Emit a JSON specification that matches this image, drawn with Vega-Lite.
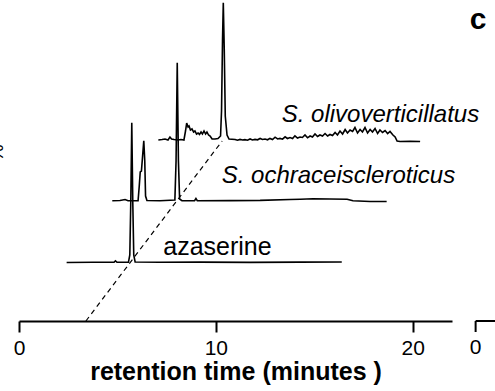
{
  "$schema": "https://vega.github.io/schema/vega-lite/v6.json",
  "autosize": {"type": "none"},
  "padding": {"left": 19, "top": 0, "right": 43, "bottom": 70},
  "width": 433,
  "height": 321,
  "background": "white",
  "config": {"view": {"stroke": null}, "font": "Liberation Sans"},
  "datasets": {
    "traces": [
      {"series": "azaserine", "t": 2.42, "s": 58.5},
      {"series": "azaserine", "t": 3.76, "s": 58.8},
      {"series": "azaserine", "t": 4.83, "s": 58.7},
      {"series": "azaserine", "t": 4.90, "s": 60.2},
      {"series": "azaserine", "t": 4.98, "s": 58.7},
      {"series": "azaserine", "t": 5.56, "s": 58.7},
      {"series": "azaserine", "t": 5.63, "s": 66},
      {"series": "azaserine", "t": 5.68, "s": 120},
      {"series": "azaserine", "t": 5.73, "s": 198.3},
      {"series": "azaserine", "t": 5.78, "s": 120},
      {"series": "azaserine", "t": 5.83, "s": 66},
      {"series": "azaserine", "t": 5.90, "s": 59},
      {"series": "azaserine", "t": 7.16, "s": 58.7},
      {"series": "azaserine", "t": 9.20, "s": 58.9},
      {"series": "azaserine", "t": 11.74, "s": 58.6},
      {"series": "azaserine", "t": 14.28, "s": 58.9},
      {"series": "azaserine", "t": 16.40, "s": 59},

      {"series": "ochraceiscleroticus", "t": 4.74, "s": 120.3},
      {"series": "ochraceiscleroticus", "t": 5.13, "s": 120.5},
      {"series": "ochraceiscleroticus", "t": 5.39, "s": 121.5},
      {"series": "ochraceiscleroticus", "t": 5.54, "s": 120.3},
      {"series": "ochraceiscleroticus", "t": 6.05, "s": 120.3},
      {"series": "ochraceiscleroticus", "t": 6.11, "s": 135},
      {"series": "ochraceiscleroticus", "t": 6.16, "s": 149},
      {"series": "ochraceiscleroticus", "t": 6.22, "s": 150},
      {"series": "ochraceiscleroticus", "t": 6.28, "s": 165},
      {"series": "ochraceiscleroticus", "t": 6.34, "s": 180.3},
      {"series": "ochraceiscleroticus", "t": 6.39, "s": 160},
      {"series": "ochraceiscleroticus", "t": 6.43, "s": 125},
      {"series": "ochraceiscleroticus", "t": 6.50, "s": 120.5},
      {"series": "ochraceiscleroticus", "t": 7.16, "s": 120.3},
      {"series": "ochraceiscleroticus", "t": 7.92, "s": 121},
      {"series": "ochraceiscleroticus", "t": 7.98, "s": 160},
      {"series": "ochraceiscleroticus", "t": 8.04, "s": 258.3},
      {"series": "ochraceiscleroticus", "t": 8.10, "s": 160},
      {"series": "ochraceiscleroticus", "t": 8.16, "s": 122},
      {"series": "ochraceiscleroticus", "t": 8.28, "s": 120.3},
      {"series": "ochraceiscleroticus", "t": 8.92, "s": 120.3},
      {"series": "ochraceiscleroticus", "t": 8.99, "s": 122.5},
      {"series": "ochraceiscleroticus", "t": 9.06, "s": 120.3},
      {"series": "ochraceiscleroticus", "t": 10.72, "s": 120.4},
      {"series": "ochraceiscleroticus", "t": 12.25, "s": 120.6},
      {"series": "ochraceiscleroticus", "t": 13.77, "s": 121.5},
      {"series": "ochraceiscleroticus", "t": 14.30, "s": 121.8},
      {"series": "ochraceiscleroticus", "t": 14.94, "s": 122.3},
      {"series": "ochraceiscleroticus", "t": 15.80, "s": 122},
      {"series": "ochraceiscleroticus", "t": 16.67, "s": 121.7},
      {"series": "ochraceiscleroticus", "t": 16.97, "s": 120.3},
      {"series": "ochraceiscleroticus", "t": 17.84, "s": 119.5},
      {"series": "ochraceiscleroticus", "t": 18.68, "s": 119.5},

      {"series": "olivoverticillatus", "t": 7.08, "s": 181},
      {"series": "olivoverticillatus", "t": 7.27, "s": 181.5},
      {"series": "olivoverticillatus", "t": 7.42, "s": 182},
      {"series": "olivoverticillatus", "t": 7.57, "s": 181},
      {"series": "olivoverticillatus", "t": 7.67, "s": 184},
      {"series": "olivoverticillatus", "t": 7.75, "s": 182},
      {"series": "olivoverticillatus", "t": 7.88, "s": 181.5},
      {"series": "olivoverticillatus", "t": 8.08, "s": 181},
      {"series": "olivoverticillatus", "t": 8.23, "s": 181.5},
      {"series": "olivoverticillatus", "t": 8.38, "s": 181},
      {"series": "olivoverticillatus", "t": 8.46, "s": 190},
      {"series": "olivoverticillatus", "t": 8.52, "s": 198},
      {"series": "olivoverticillatus", "t": 8.59, "s": 194},
      {"series": "olivoverticillatus", "t": 8.64, "s": 195},
      {"series": "olivoverticillatus", "t": 8.71, "s": 191},
      {"series": "olivoverticillatus", "t": 8.79, "s": 192},
      {"series": "olivoverticillatus", "t": 8.87, "s": 189},
      {"series": "olivoverticillatus", "t": 8.94, "s": 190},
      {"series": "olivoverticillatus", "t": 9.02, "s": 187},
      {"series": "olivoverticillatus", "t": 9.10, "s": 188},
      {"series": "olivoverticillatus", "t": 9.17, "s": 186.5},
      {"series": "olivoverticillatus", "t": 9.25, "s": 189},
      {"series": "olivoverticillatus", "t": 9.32, "s": 187},
      {"series": "olivoverticillatus", "t": 9.40, "s": 190},
      {"series": "olivoverticillatus", "t": 9.48, "s": 187},
      {"series": "olivoverticillatus", "t": 9.55, "s": 189},
      {"series": "olivoverticillatus", "t": 9.63, "s": 186},
      {"series": "olivoverticillatus", "t": 9.71, "s": 185},
      {"series": "olivoverticillatus", "t": 9.81, "s": 182},
      {"series": "olivoverticillatus", "t": 9.96, "s": 182},
      {"series": "olivoverticillatus", "t": 10.11, "s": 182.5},
      {"series": "olivoverticillatus", "t": 10.24, "s": 185},
      {"series": "olivoverticillatus", "t": 10.29, "s": 210},
      {"series": "olivoverticillatus", "t": 10.34, "s": 280},
      {"series": "olivoverticillatus", "t": 10.38, "s": 318.3},
      {"series": "olivoverticillatus", "t": 10.43, "s": 270},
      {"series": "olivoverticillatus", "t": 10.48, "s": 205},
      {"series": "olivoverticillatus", "t": 10.57, "s": 186},
      {"series": "olivoverticillatus", "t": 10.67, "s": 182},
      {"series": "olivoverticillatus", "t": 10.98, "s": 181.5},
      {"series": "olivoverticillatus", "t": 11.10, "s": 180.8},
      {"series": "olivoverticillatus", "t": 11.23, "s": 181.6},
      {"series": "olivoverticillatus", "t": 11.36, "s": 181},
      {"series": "olivoverticillatus", "t": 11.48, "s": 181.4},
      {"series": "olivoverticillatus", "t": 11.61, "s": 180.8},
      {"series": "olivoverticillatus", "t": 11.74, "s": 182},
      {"series": "olivoverticillatus", "t": 11.86, "s": 181},
      {"series": "olivoverticillatus", "t": 11.99, "s": 181.6},
      {"series": "olivoverticillatus", "t": 12.12, "s": 181.2},
      {"series": "olivoverticillatus", "t": 12.25, "s": 182.5},
      {"series": "olivoverticillatus", "t": 12.37, "s": 181.5},
      {"series": "olivoverticillatus", "t": 12.50, "s": 182},
      {"series": "olivoverticillatus", "t": 12.63, "s": 181.2},
      {"series": "olivoverticillatus", "t": 12.75, "s": 182.6},
      {"series": "olivoverticillatus", "t": 12.88, "s": 181.5},
      {"series": "olivoverticillatus", "t": 13.01, "s": 183.8},
      {"series": "olivoverticillatus", "t": 13.14, "s": 182},
      {"series": "olivoverticillatus", "t": 13.26, "s": 182.6},
      {"series": "olivoverticillatus", "t": 13.39, "s": 181.8},
      {"series": "olivoverticillatus", "t": 13.52, "s": 184.2},
      {"series": "olivoverticillatus", "t": 13.64, "s": 182.5},
      {"series": "olivoverticillatus", "t": 13.77, "s": 183.4},
      {"series": "olivoverticillatus", "t": 13.90, "s": 182.5},
      {"series": "olivoverticillatus", "t": 14.02, "s": 185.2},
      {"series": "olivoverticillatus", "t": 14.15, "s": 183},
      {"series": "olivoverticillatus", "t": 14.28, "s": 184},
      {"series": "olivoverticillatus", "t": 14.40, "s": 183.5},
      {"series": "olivoverticillatus", "t": 14.53, "s": 186},
      {"series": "olivoverticillatus", "t": 14.66, "s": 183.2},
      {"series": "olivoverticillatus", "t": 14.79, "s": 185},
      {"series": "olivoverticillatus", "t": 14.91, "s": 184},
      {"series": "olivoverticillatus", "t": 15.04, "s": 187},
      {"series": "olivoverticillatus", "t": 15.17, "s": 184.5},
      {"series": "olivoverticillatus", "t": 15.29, "s": 186},
      {"series": "olivoverticillatus", "t": 15.42, "s": 185},
      {"series": "olivoverticillatus", "t": 15.55, "s": 187.5},
      {"series": "olivoverticillatus", "t": 15.68, "s": 185},
      {"series": "olivoverticillatus", "t": 15.80, "s": 186.5},
      {"series": "olivoverticillatus", "t": 15.93, "s": 185.5},
      {"series": "olivoverticillatus", "t": 16.06, "s": 188.5},
      {"series": "olivoverticillatus", "t": 16.18, "s": 186},
      {"series": "olivoverticillatus", "t": 16.31, "s": 190},
      {"series": "olivoverticillatus", "t": 16.44, "s": 187},
      {"series": "olivoverticillatus", "t": 16.57, "s": 191.5},
      {"series": "olivoverticillatus", "t": 16.69, "s": 188},
      {"series": "olivoverticillatus", "t": 16.82, "s": 191},
      {"series": "olivoverticillatus", "t": 16.95, "s": 189.5},
      {"series": "olivoverticillatus", "t": 17.07, "s": 193.5},
      {"series": "olivoverticillatus", "t": 17.20, "s": 188},
      {"series": "olivoverticillatus", "t": 17.33, "s": 191.5},
      {"series": "olivoverticillatus", "t": 17.45, "s": 189},
      {"series": "olivoverticillatus", "t": 17.58, "s": 193.5},
      {"series": "olivoverticillatus", "t": 17.71, "s": 188},
      {"series": "olivoverticillatus", "t": 17.84, "s": 191.5},
      {"series": "olivoverticillatus", "t": 17.96, "s": 189},
      {"series": "olivoverticillatus", "t": 18.09, "s": 192.5},
      {"series": "olivoverticillatus", "t": 18.22, "s": 187.5},
      {"series": "olivoverticillatus", "t": 18.34, "s": 191},
      {"series": "olivoverticillatus", "t": 18.47, "s": 188.5},
      {"series": "olivoverticillatus", "t": 18.60, "s": 190.5},
      {"series": "olivoverticillatus", "t": 18.73, "s": 187.5},
      {"series": "olivoverticillatus", "t": 18.85, "s": 189.5},
      {"series": "olivoverticillatus", "t": 19.00, "s": 186},
      {"series": "olivoverticillatus", "t": 19.11, "s": 184},
      {"series": "olivoverticillatus", "t": 19.21, "s": 180},
      {"series": "olivoverticillatus", "t": 19.36, "s": 179.5},
      {"series": "olivoverticillatus", "t": 19.87, "s": 179.7},
      {"series": "olivoverticillatus", "t": 20.38, "s": 179.5}
    ],
    "diagonal": [
      {"t": 3.40, "s": 0},
      {"t": 10.32, "s": 180}
    ],
    "labels": [
      {"label": "S. olivoverticillatus", "t": 13.35, "s": 199.5, "italic": "yes"},
      {"label": "S. ochraceiscleroticus", "t": 10.30, "s": 138.5, "italic": "yes"},
      {"label": "azaserine", "t": 7.33, "s": 66, "italic": "no"}
    ],
    "nextpanel": [
      {"t": 23.2, "t2": 25.5, "s": 0, "s2": -11}
    ]
  },
  "layer": [
    {
      "data": {"name": "traces"},
      "mark": {"type": "line", "color": "black", "strokeWidth": 1.6, "interpolate": "linear"},
      "encoding": {
        "x": {"field": "t", "type": "quantitative", "scale": {"domain": [0, 22], "nice": false, "zero": false},
          "axis": {
            "values": [0, 10, 20],
            "title": "retention time (minutes )",
            "titleFontSize": 25,
            "titleFontWeight": "bold",
            "titleColor": "black",
            "titlePadding": 1,
            "labelFontSize": 21,
            "labelColor": "black",
            "labelPadding": 5,
            "labelFlush": false,
            "tickSize": 11,
            "tickWidth": 2,
            "tickColor": "black",
            "domainWidth": 2,
            "domainColor": "black",
            "grid": false
          }},
        "y": {"field": "s", "type": "quantitative", "scale": {"domain": [0, 321], "nice": false, "zero": false}, "axis": null},
        "detail": {"field": "series"}
      }
    },
    {
      "data": {"name": "diagonal"},
      "mark": {"type": "line", "color": "black", "strokeWidth": 1.2, "strokeDash": [5, 4]},
      "encoding": {
        "x": {"field": "t", "type": "quantitative"},
        "y": {"field": "s", "type": "quantitative"}
      }
    },
    {
      "data": {"name": "labels"},
      "transform": [{"filter": "datum.italic == 'yes'"}],
      "mark": {"type": "text", "align": "left", "baseline": "alphabetic", "fontSize": 24, "fontStyle": "italic", "color": "black"},
      "encoding": {
        "x": {"field": "t", "type": "quantitative"},
        "y": {"field": "s", "type": "quantitative"},
        "text": {"field": "label"}
      }
    },
    {
      "data": {"name": "labels"},
      "transform": [{"filter": "datum.italic == 'no'"}],
      "mark": {"type": "text", "align": "left", "baseline": "alphabetic", "fontSize": 25, "color": "black"},
      "encoding": {
        "x": {"field": "t", "type": "quantitative"},
        "y": {"field": "s", "type": "quantitative"},
        "text": {"field": "label"}
      }
    },
    {
      "data": {"name": "nextpanel"},
      "mark": {"type": "rule", "color": "black", "strokeWidth": 2},
      "encoding": {
        "x": {"field": "t", "type": "quantitative"},
        "x2": {"field": "t2"},
        "y": {"field": "s", "type": "quantitative"}
      }
    },
    {
      "data": {"name": "nextpanel"},
      "mark": {"type": "rule", "color": "black", "strokeWidth": 2},
      "encoding": {
        "x": {"field": "t", "type": "quantitative"},
        "y": {"field": "s", "type": "quantitative"},
        "y2": {"field": "s2"}
      }
    },
    {
      "data": {"values": [{"txt": "0", "t": 23.2, "s": -27}]},
      "mark": {"type": "text", "fontSize": 21, "color": "black", "baseline": "middle", "align": "center"},
      "encoding": {
        "x": {"field": "t", "type": "quantitative"},
        "y": {"field": "s", "type": "quantitative"},
        "text": {"field": "txt"}
      }
    },
    {
      "data": {"values": [{"txt": "c", "t": 23.32, "s": 301}]},
      "mark": {"type": "text", "fontSize": 30, "fontWeight": "bold", "color": "black", "baseline": "middle", "align": "center"},
      "encoding": {
        "x": {"field": "t", "type": "quantitative"},
        "y": {"field": "s", "type": "quantitative"},
        "text": {"field": "txt"}
      }
    },
    {
      "data": {"values": [{"txt": "%", "t": -1.1, "s": 168}]},
      "mark": {"type": "text", "fontSize": 20, "angle": 270, "color": "black", "baseline": "middle", "align": "center"},
      "encoding": {
        "x": {"field": "t", "type": "quantitative"},
        "y": {"field": "s", "type": "quantitative"},
        "text": {"field": "txt"}
      }
    }
  ]
}
